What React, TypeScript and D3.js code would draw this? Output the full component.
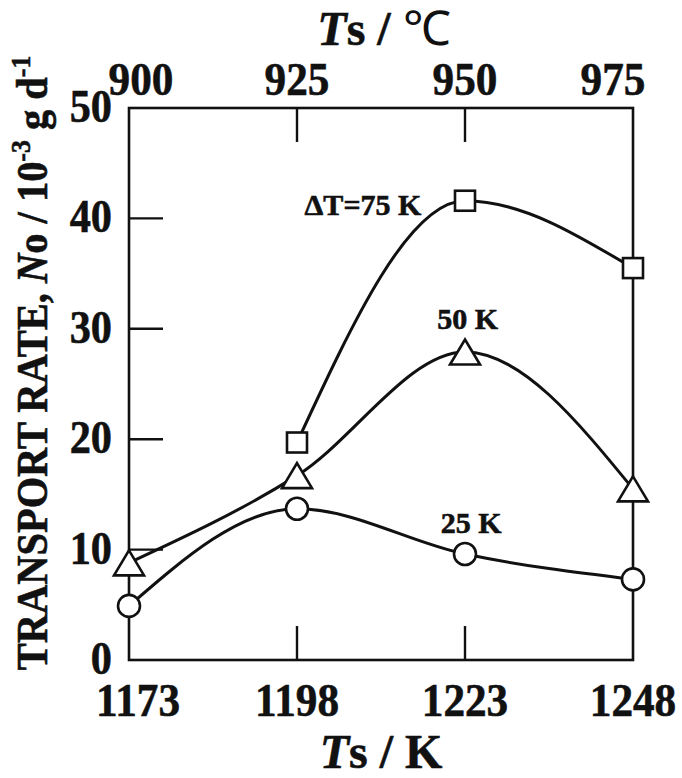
import React from "react";
import * as d3 from "d3";

const tempsK = [1173, 1198, 1223, 1248];
const tempsC = [900, 925, 950, 975];
const yTicks = [0, 10, 20, 30, 40, 50];

const dt25 = [4.9, 13.7, 9.6, 7.3];
const dt50 = [8.8, 16.7, 27.9, 15.5];
const dt75K = [1198, 1223, 1248];
const dt75 = [19.7, 41.6, 35.5];

const seriesLabels = [
  { text: "ΔT=75 K", k: 1216.5, v: 40.3, anchor: "end" },
  { text: "50 K", k: 1223.4, v: 30.0, anchor: "middle" },
  { text: "25 K", k: 1223.9, v: 11.5, anchor: "middle" },
];

const W = 682;
const H = 778;
const FONT = "'Liberation Serif', 'Times New Roman', serif";

export default function App() {
  const x = d3.scaleLinear().domain([1173, 1248]).range([129, 633]);
  const y = d3.scaleLinear().domain([0, 50]).range([660, 108]);
  const [x0, x1] = x.range();
  const [y0, y1] = y.range();

  const line = d3
    .line<[number, number]>()
    .x((d) => x(d[0]))
    .y((d) => y(d[1]))
    .curve(d3.curveMonotoneX);

  const s25: [number, number][] = tempsK.map((k, i) => [k, dt25[i]]);
  const s50: [number, number][] = tempsK.map((k, i) => [k, dt50[i]]);
  const s75: [number, number][] = dt75K.map((k, i) => [k, dt75[i]]);

  const tri = (cx: number, cy: number) => {
    const w = 15, h = 12.5;
    return `M${cx},${cy - h}L${cx + w},${cy + h}L${cx - w},${cy + h}Z`;
  };

  const innerTicks = tempsK.slice(1, 3);
  const tickLen = 34;
  const heavy = { stroke: "#111", strokeWidth: 0.6 };

  return (
    <svg
      width={W}
      height={H}
      style={{ position: "absolute", left: 0, top: 0, background: "#fff" }}
      fontFamily={FONT}
    >
      <rect x={0} y={0} width={W} height={H} fill="#fff" />
      {/* frame */}
      <rect x={x0} y={y1} width={x1 - x0} height={y0 - y1} fill="none" stroke="#111" strokeWidth={2.6} />
      {/* y ticks */}
      {yTicks.slice(1, 5).map((t) => (
        <line key={"yt" + t} x1={x0} x2={x0 + tickLen} y1={y(t)} y2={y(t)} stroke="#111" strokeWidth={2.4} />
      ))}
      {/* bottom ticks */}
      {innerTicks.map((k) => (
        <line key={"bt" + k} x1={x(k)} x2={x(k)} y1={y0} y2={y0 - tickLen} stroke="#111" strokeWidth={2.4} />
      ))}
      {/* top ticks */}
      {innerTicks.map((k) => (
        <line key={"tt" + k} x1={x(k)} x2={x(k)} y1={y1} y2={y1 + tickLen} stroke="#111" strokeWidth={2.4} />
      ))}

      {/* y tick labels */}
      {yTicks.map((t) => (
        <text
          key={"yl" + t}
          transform={`translate(112,${y(t) + 14}) scale(0.92,1)`}
          textAnchor="end"
          fontSize={46}
          fontWeight="bold"
          fill="#111"
          {...heavy}
        >
          {t}
        </text>
      ))}
      {/* bottom tick labels */}
      {tempsK.map((k, i) => (
        <text
          key={"bl" + k}
          transform={`translate(${x(k) + (i === 0 ? 9 : 0)},716) scale(0.92,1)`}
          textAnchor="middle"
          fontSize={47}
          fontWeight="bold"
          fill="#111"
          {...heavy}
        >
          {k}
        </text>
      ))}
      {/* top tick labels */}
      {tempsC.map((c, i) => (
        <text
          key={"tl" + c}
          transform={`translate(${x(c + 273) + (i === 0 ? 12 : i === 3 ? -20 : 0)},95) scale(0.92,1)`}
          textAnchor="middle"
          fontSize={47}
          fontWeight="bold"
          fill="#111"
          {...heavy}
        >
          {c}
        </text>
      ))}

      {/* axis titles */}
      <text x={(x0 + x1) / 2} y={768} textAnchor="middle" fontSize={48} fontWeight="bold" fill="#111" {...heavy}>
        <tspan fontStyle="italic">T</tspan>s / K
      </text>
      <text x={(x0 + x1) / 2 + 3} y={45} textAnchor="middle" fontSize={48} fontWeight="bold" fill="#111" {...heavy}>
        <tspan fontStyle="italic">T</tspan>s / <tspan fontWeight="normal" strokeWidth={0}>℃</tspan>
      </text>
      <text
        transform={`translate(47,363) rotate(-90) scale(0.92,1)`}
        textAnchor="middle"
        fontSize={44}
        fontWeight="bold"
        fill="#111"
        {...heavy}
      >
        TRANSPORT RATE, <tspan fontStyle="italic">N</tspan>o / 10
        <tspan dy={-17} fontSize={28}>-3</tspan>
        <tspan dy={17}> g d</tspan>
        <tspan dy={-17} fontSize={28}>-1</tspan>
      </text>

      {/* lines */}
      <path d={line(s25) || ""} fill="none" stroke="#111" strokeWidth={3} />
      <path d={line(s50) || ""} fill="none" stroke="#111" strokeWidth={3} />
      <path d={line(s75) || ""} fill="none" stroke="#111" strokeWidth={3} />

      {/* markers */}
      {s25.map((d, i) => (
        <circle key={"c" + i} cx={x(d[0])} cy={y(d[1])} r={11} fill="#fff" stroke="#111" strokeWidth={2.6} />
      ))}
      {s50.map((d, i) => (
        <path key={"t" + i} d={tri(x(d[0]), y(d[1]))} fill="#fff" stroke="#111" strokeWidth={2.6} strokeLinejoin="miter" />
      ))}
      {s75.map((d, i) => (
        <rect key={"s" + i} x={x(d[0]) - 10} y={y(d[1]) - 10} width={20} height={20} fill="#fff" stroke="#111" strokeWidth={2.6} />
      ))}

      {/* series labels */}
      {seriesLabels.map((l) => (
        <text
          key={l.text}
          x={x(l.k)}
          y={y(l.v)}
          textAnchor={l.anchor as any}
          fontSize={30}
          fontWeight="bold"
          fill="#111"
          {...heavy}
        >
          {l.text}
        </text>
      ))}
    </svg>
  );
}
